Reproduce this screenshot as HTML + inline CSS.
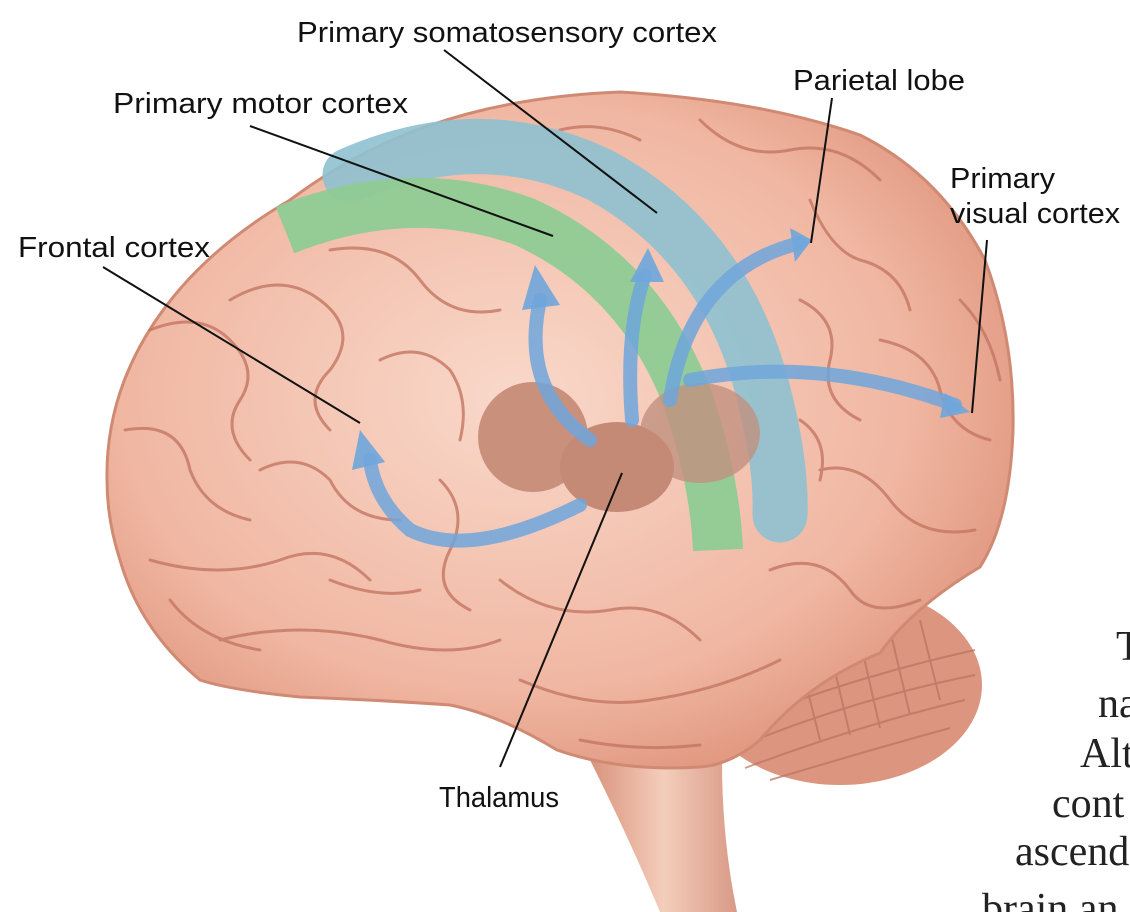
<!DOCTYPE html>
<html><head><meta charset="utf-8"><style>
html,body{margin:0;padding:0;background:#fff;overflow:hidden}
svg{display:block}
.l{font-family:"Liberation Sans",sans-serif;font-size:29px;fill:#111}
.s{font-family:"Liberation Serif",serif;font-size:42px;fill:#222}
</style></head><body>
<svg width="1130" height="912" viewBox="0 0 1130 912" xmlns="http://www.w3.org/2000/svg">
<defs>
<radialGradient id="pk" cx="0.45" cy="0.45" r="0.62">
<stop offset="0" stop-color="#f9d8ca"/><stop offset="0.7" stop-color="#f0b7a2"/><stop offset="1" stop-color="#de927a"/>
</radialGradient>
<linearGradient id="bs" x1="0" x2="1"><stop offset="0" stop-color="#d9937c"/><stop offset="0.5" stop-color="#f4cdbb"/><stop offset="1" stop-color="#d89a86"/></linearGradient>
</defs>
<path d="M590,760 Q630,840 660,912 L737,912 Q722,840 722,760 Z" fill="url(#bs)"/>
<ellipse cx="840" cy="685" rx="142" ry="100" fill="#dc957e"/>
<g stroke="#b87260" stroke-width="2" fill="none" opacity="0.7">
<path d="M720,730 Q840,680 975,650"/><path d="M730,750 Q850,700 975,675"/><path d="M745,768 Q860,725 965,700"/><path d="M770,780 Q870,750 950,728"/><path d="M800,660 L820,740"/><path d="M830,650 L850,735"/><path d="M860,640 L880,728"/><path d="M890,630 L910,715"/><path d="M920,620 L940,700"/>
</g>
<path d="M107,480 C105,370 170,270 290,200 C370,140 470,98 620,92 Q760,100 860,135 Q940,175 985,260 Q1015,340 1013,430 Q1010,520 980,567 Q913,607 880,653 Q807,683 760,740 Q730,765 700,767 Q620,772 557,750 Q500,715 450,705 Q380,700 300,697 Q230,690 200,680 Q140,630 120,560 Q107,520 107,480 Z" fill="url(#pk)" stroke="#d08a74" stroke-width="3"/>
<g stroke="#c47763" stroke-width="3" fill="none" stroke-linecap="round" opacity="0.8">
<path d="M150,330 Q200,310 230,340 Q260,370 240,400 Q220,430 250,460"/>
<path d="M125,430 Q180,420 190,470 Q205,510 250,520"/>
<path d="M150,560 Q220,580 280,560 Q330,540 370,580"/>
<path d="M230,300 Q280,270 320,300 Q360,330 330,370 Q300,400 330,430"/>
<path d="M260,470 Q300,450 330,480 Q350,520 400,520"/>
<path d="M330,250 Q390,240 420,280 Q450,320 500,310"/>
<path d="M380,360 Q420,340 450,370 Q470,400 460,440"/>
<path d="M220,640 Q300,620 380,640 Q450,660 500,640"/>
<path d="M440,480 Q470,510 450,550 Q430,590 470,610"/>
<path d="M500,580 Q550,620 610,610 Q660,600 700,640"/>
<path d="M520,680 Q590,710 650,700 Q720,690 780,660"/>
<path d="M580,740 Q640,752 700,745"/>
<path d="M810,200 Q830,250 860,260 Q900,270 910,310"/>
<path d="M800,300 Q840,320 830,360 Q820,400 860,420"/>
<path d="M880,340 Q930,350 940,390 Q950,430 990,440"/>
<path d="M820,470 Q860,460 890,500 Q920,540 975,530"/>
<path d="M770,570 Q820,550 850,590 Q870,620 920,600"/>
<path d="M700,120 Q740,160 790,150 Q840,140 880,180"/>
<path d="M960,300 Q990,330 1000,380"/>
<path d="M800,420 Q830,440 820,480"/>
<path d="M560,130 Q600,120 640,140"/>
<path d="M170,600 Q200,640 260,650"/>
<path d="M330,580 Q380,600 420,590"/>
</g>
<path d="M350,175 Q480,118 600,175 Q720,240 760,380 Q782,460 780,515" stroke="#8ec1d0" stroke-width="55" fill="none" opacity="0.9" stroke-linecap="round"/>
<path d="M285,230 Q410,180 525,222 Q640,275 688,400 Q715,480 718,550" stroke="#8fcb94" stroke-width="50" fill="none" opacity="0.95"/>
<ellipse cx="700" cy="433" rx="60" ry="50" fill="#c29080" opacity="0.8"/>
<ellipse cx="533" cy="437" rx="55" ry="55" fill="#c9917c"/>
<ellipse cx="617" cy="467" rx="57" ry="45" fill="#c48a75"/>
<g fill="none" stroke="#6fa6dc" stroke-width="14" opacity="0.85" stroke-linecap="round">
<path d="M580,505 Q470,560 410,530 Q375,500 370,460"/>
<path d="M590,440 Q520,390 540,300"/>
<path d="M632,420 Q625,330 645,275"/>
<path d="M670,400 Q690,270 800,243"/>
<path d="M690,380 Q820,355 955,405"/>
</g>
<g fill="#6fa6dc" opacity="0.9">
<polygon points="352,470 360,430 385,462"/>
<polygon points="522,310 535,265 560,305"/>
<polygon points="630,282 648,248 664,282"/>
<polygon points="790,228 812,240 795,262"/>
<polygon points="945,393 970,412 940,418"/>
</g>
<g stroke="#111" stroke-width="2" fill="none">
<line x1="444" y1="50" x2="657" y2="213"/>
<line x1="250" y1="126" x2="553" y2="236"/>
<line x1="832" y1="98" x2="811" y2="243"/>
<line x1="987" y1="240" x2="972" y2="413"/>
<line x1="103" y1="267" x2="360" y2="423"/>
<line x1="500" y1="767" x2="622" y2="473"/>
</g>
<text class="l" x="297" y="42" textLength="420" lengthAdjust="spacingAndGlyphs">Primary somatosensory cortex</text>
<text class="l" x="793" y="90" textLength="172" lengthAdjust="spacingAndGlyphs">Parietal lobe</text>
<text class="l" x="113" y="113" textLength="295" lengthAdjust="spacingAndGlyphs">Primary motor cortex</text>
<text class="l" x="950" y="188" textLength="105" lengthAdjust="spacingAndGlyphs">Primary</text>
<text class="l" x="950" y="223" textLength="170" lengthAdjust="spacingAndGlyphs">visual cortex</text>
<text class="l" x="18" y="257" textLength="192" lengthAdjust="spacingAndGlyphs">Frontal cortex</text>
<text class="l" x="439" y="807" textLength="120" lengthAdjust="spacingAndGlyphs">Thalamus</text>
<text class="s" x="1116" y="660">T</text>
<text class="s" x="1098" y="717">na</text>
<text class="s" x="1080" y="767">Alt</text>
<text class="s" x="1052" y="817">cont</text>
<text class="s" x="1015" y="865">ascend</text>
<text class="s" x="982" y="922">brain  an</text>
</svg>
</body></html>
